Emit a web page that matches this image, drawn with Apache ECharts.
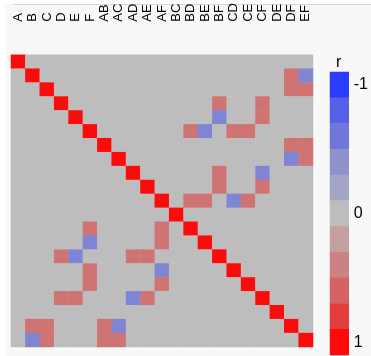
<!DOCTYPE html>
<html>
<head>
<meta charset="utf-8">
<script src="https://cdn.jsdelivr.net/npm/echarts@6/dist/echarts.min.js"></script>
<style>html,body{margin:0;padding:0;background:#f8f8f8;}#c{width:371px;height:356px;}</style>
</head>
<body>
<div id="c"></div>
<script>
const categories = ['A','B','C','D','E','F','AB','AC','AD','AE','AF','BC','BD','BE','BF','CD','CE','CF','DE','DF','EF'];

const corrRows = [
  [1,0,0,0,0,0,0,0,0,0,0,0,0,0,0,0,0,0,0,0,0],
  [0,1,0,0,0,0,0,0,0,0,0,0,0,0,0,0,0,0,0,0.5,-0.5],
  [0,0,1,0,0,0,0,0,0,0,0,0,0,0,0,0,0,0,0,0.5,0.5],
  [0,0,0,1,0,0,0,0,0,0,0,0,0,0,0.5,0,0,0.5,0,0,0],
  [0,0,0,0,1,0,0,0,0,0,0,0,0,0,-0.5,0,0,0.5,0,0,0],
  [0,0,0,0,0,1,0,0,0,0,0,0,0.5,-0.5,0,0.5,0.5,0,0,0,0],
  [0,0,0,0,0,0,1,0,0,0,0,0,0,0,0,0,0,0,0,0.5,0.5],
  [0,0,0,0,0,0,0,1,0,0,0,0,0,0,0,0,0,0,0,-0.5,0.5],
  [0,0,0,0,0,0,0,0,1,0,0,0,0,0,0.5,0,0,-0.5,0,0,0],
  [0,0,0,0,0,0,0,0,0,1,0,0,0,0,0.5,0,0,0.5,0,0,0],
  [0,0,0,0,0,0,0,0,0,0,1,0,0.5,0.5,0,-0.5,0.5,0,0,0,0],
  [0,0,0,0,0,0,0,0,0,0,0,1,0,0,0,0,0,0,0,0,0],
  [0,0,0,0,0,0.5,0,0,0,0,0.5,0,1,0,0,0,0,0,0,0,0],
  [0,0,0,0,0,-0.5,0,0,0,0,0.5,0,0,1,0,0,0,0,0,0,0],
  [0,0,0,0.5,-0.5,0,0,0,0.5,0.5,0,0,0,0,1,0,0,0,0,0,0],
  [0,0,0,0,0,0.5,0,0,0,0,-0.5,0,0,0,0,1,0,0,0,0,0],
  [0,0,0,0,0,0.5,0,0,0,0,0.5,0,0,0,0,0,1,0,0,0,0],
  [0,0,0,0.5,0.5,0,0,0,-0.5,0.5,0,0,0,0,0,0,0,1,0,0,0],
  [0,0,0,0,0,0,0,0,0,0,0,0,0,0,0,0,0,0,1,0,0],
  [0,0.5,0.5,0,0,0,0.5,-0.5,0,0,0,0,0,0,0,0,0,0,0,1,0],
  [0,-0.5,0.5,0,0,0,0.5,0.5,0,0,0,0,0,0,0,0,0,0,0,0,1]
];

const legendValues = [-1,-0.8,-0.6,-0.4,-0.2,0,0.2,0.4,0.6,0.8,1];
const legendTickLabels = ['-1','0','1'];
const legendTitle = 'r';
const scaleColors = ['#2b3cff','#5560e6','#6f77dc','#8e92c8','#a3a6c4','#bdbdbd','#c4a0a0','#cc8282','#d46464','#e33e3e','#ff0a0a'];

const heatData = [];
corrRows.forEach((row, r) => row.forEach((v, c) => heatData.push([c, r, v])));
const legendData = legendValues.map((v, i) => [0, i, v]);

const chart = echarts.init(document.getElementById('c'), null, {renderer: 'canvas'});
chart.setOption({
  backgroundColor: '#f8f8f8',
  animation: false,
  title: {text: legendTitle, left: 331, top: 50, textStyle: {fontSize: 16, fontWeight: 'normal', color: '#000', fontFamily: 'Liberation Sans'}},
  graphic: [
    {type: 'rect', shape: {x: 0, y: 0, width: 371, height: 4}, style: {fill: '#ffffff'}, silent: true},
    {type: 'rect', shape: {x: 0, y: 0, width: 5, height: 356}, style: {fill: '#ffffff'}, silent: true},
    {type: 'rect', shape: {x: 13, y: 4, width: 358, height: 1}, style: {fill: '#d6d6d6'}, silent: true}
  ],
  grid: [
    {left: 11, top: 46, width: 302, height: 301},
    {left: 330, top: 72, width: 21, height: 283}
  ],
  xAxis: [
    {type: 'category', gridIndex: 0, position: 'top', data: categories,
     axisLine: {show: false}, axisTick: {show: false}, splitLine: {show: false},
     axisLabel: {interval: 0, rotate: -90, align: 'left', verticalAlign: 'middle', margin: 33, fontSize: 13, color: '#000', fontFamily: 'Liberation Sans'}},
    {type: 'category', gridIndex: 1, data: [legendTitle], show: false}
  ],
  yAxis: [
    {type: 'category', gridIndex: 0, data: categories, inverse: true,
     axisLine: {show: false}, axisTick: {show: false}, axisLabel: {show: false}, splitLine: {show: false}},
    {type: 'category', gridIndex: 1, position: 'right', inverse: true, data: legendValues.map(String),
     axisLine: {show: false}, axisTick: {show: false}, splitLine: {show: false},
     axisLabel: {interval: 0, margin: 5, fontSize: 16, color: '#000', fontFamily: 'Liberation Sans',
       formatter: v => legendTickLabels.indexOf(v) >= 0 ? v : ''}}
  ],
  visualMap: {type: 'continuous', show: false, min: -1, max: 1, seriesIndex: [0, 1], inRange: {color: scaleColors}},
  series: [
    {type: 'heatmap', xAxisIndex: 0, yAxisIndex: 0, data: heatData, emphasis: {disabled: true}, progressive: 0},
    {type: 'heatmap', xAxisIndex: 1, yAxisIndex: 1, data: legendData, emphasis: {disabled: true}, progressive: 0}
  ]
});
</script>
</body>
</html>
